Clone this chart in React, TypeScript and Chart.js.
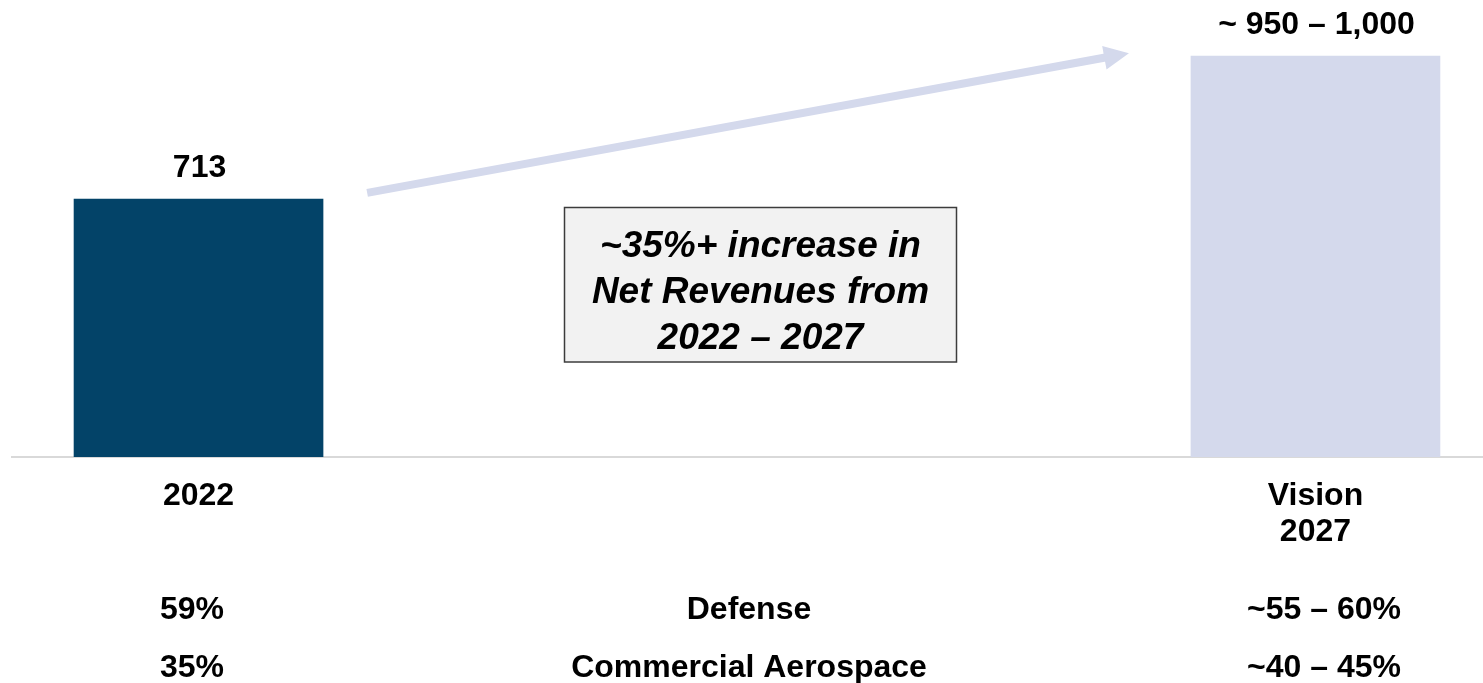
import React, { useEffect, useRef } from "react";
import { Chart, registerables } from "chart.js";

Chart.register(...registerables);

const FONT = '"Liberation Sans", Arial, Helvetica, sans-serif';

// ---- data ----
const categories = ["2022", "Vision 2027"];
const xPositions = [0, 1];
const revenues = [713, 1108];
const valueLabels = ["713", "~ 950 – 1,000"];
const barColors = ["#034368", "#d4d9ec"];
const tickLabels = [["2022"], ["Vision", "2027"]];
const segmentNames = ["Defense", "Commercial Aerospace"];
const share2022 = ["59%", "35%"];
const share2027 = ["~55 – 60%", "~40 – 45%"];
const calloutLines = ["~35%+ increase in", "Net Revenues from", "2022 – 2027"];
const arrowFrom = { x: 0.151, y: 730 };
const arrowTo = { x: 0.833, y: 1116 };

const overlayPlugin = {
  id: "overlay",
  afterDatasetsDraw(chart: any) {
    const ctx = chart.ctx as CanvasRenderingContext2D;
    const xs = chart.scales.x;
    const ys = chart.scales.y;
    const meta = chart.getDatasetMeta(0);
    ctx.save();

    // value labels above bars
    ctx.font = `bold 32px ${FONT}`;
    ctx.fillStyle = "#000000";
    ctx.textAlign = "center";
    ctx.textBaseline = "middle";
    meta.data.forEach((bar: any, i: number) => {
      ctx.fillText(valueLabels[i], bar.x + 1, bar.y - 31);
    });

    // growth arrow
    const x1 = xs.getPixelForValue(arrowFrom.x);
    const y1 = ys.getPixelForValue(arrowFrom.y);
    const x2 = xs.getPixelForValue(arrowTo.x);
    const y2 = ys.getPixelForValue(arrowTo.y);
    const ang = Math.atan2(y2 - y1, x2 - x1);
    const cos = Math.cos(ang);
    const sin = Math.sin(ang);
    const headLen = 25;
    const headHalf = 12;
    const bx = x2 - headLen * cos;
    const by = y2 - headLen * sin;
    ctx.strokeStyle = "#d4d9ec";
    ctx.fillStyle = "#d4d9ec";
    ctx.lineWidth = 8;
    ctx.lineCap = "butt";
    ctx.beginPath();
    ctx.moveTo(x1, y1);
    ctx.lineTo(bx + 1 * cos, by + 1 * sin);
    ctx.stroke();
    ctx.beginPath();
    ctx.moveTo(x2, y2);
    ctx.lineTo(bx - headHalf * sin, by + headHalf * cos);
    ctx.lineTo(bx + headHalf * sin, by - headHalf * cos);
    ctx.closePath();
    ctx.fill();

    // callout box
    ctx.fillStyle = "#f2f2f2";
    ctx.fillRect(564.5, 207.5, 392, 154.5);
    ctx.strokeStyle = "#3c3c3c";
    ctx.lineWidth = 1.5;
    ctx.strokeRect(564.5, 207.5, 392, 154.5);
    ctx.fillStyle = "#000000";
    ctx.font = `italic bold 37px ${FONT}`;
    ctx.textAlign = "center";
    ctx.textBaseline = "middle";
    calloutLines.forEach((t, i) => {
      ctx.fillText(t, 760.5, 247 + i * 46);
    });

    // segment mix table
    ctx.font = `bold 32px ${FONT}`;
    const rowY = [610, 668];
    segmentNames.forEach((name, i) => {
      ctx.fillText(share2022[i], 192, rowY[i]);
      ctx.fillText(name, 749, rowY[i]);
      ctx.fillText(share2027[i], 1324, rowY[i]);
    });

    ctx.restore();
  },
};

export default function App() {
  const ref = useRef<HTMLCanvasElement | null>(null);

  useEffect(() => {
    if (!ref.current) return;
    const chart = new Chart(ref.current, {
      type: "bar",
      data: {
        labels: categories,
        datasets: [
          {
            data: xPositions.map((x, i) => ({ x, y: revenues[i] })),
            backgroundColor: barColors,
            borderWidth: 0,
            barThickness: 249,
          },
        ],
      },
      options: {
        animation: false,
        responsive: false,
        devicePixelRatio: 1,
        layout: { padding: { left: 12, right: 0, top: 0, bottom: 0 } },
        plugins: {
          legend: { display: false },
          tooltip: { enabled: false },
        },
        scales: {
          x: {
            type: "linear",
            offset: false,
            min: -0.167,
            max: 1.15,
            grid: { display: false, drawTicks: false, offset: false },
            border: { display: true, color: "#d9d9d9", width: 2 },
            afterBuildTicks: (scale: any) => {
              scale.ticks = xPositions.map((v) => ({ value: v }));
            },
            afterFit: (scale: any) => {
              scale.height = 226;
            },
            ticks: {
              autoSkip: false,
              maxRotation: 0,
              padding: 21,
              color: "#000000",
              font: { family: FONT, size: 32, weight: "bold", lineHeight: 1.125 },
              callback: (_v: any, i: number) => tickLabels[i],
            },
          },
          y: {
            display: false,
            min: 0,
            max: 1263,
          },
        },
      },
      plugins: [overlayPlugin],
    } as any);
    return () => chart.destroy();
  }, []);

  return (
    <div style={{ position: "fixed", left: 0, top: 0, width: 1483, height: 683, background: "#ffffff" }}>
      <canvas ref={ref} width={1483} height={683} style={{ display: "block" }} />
    </div>
  );
}
